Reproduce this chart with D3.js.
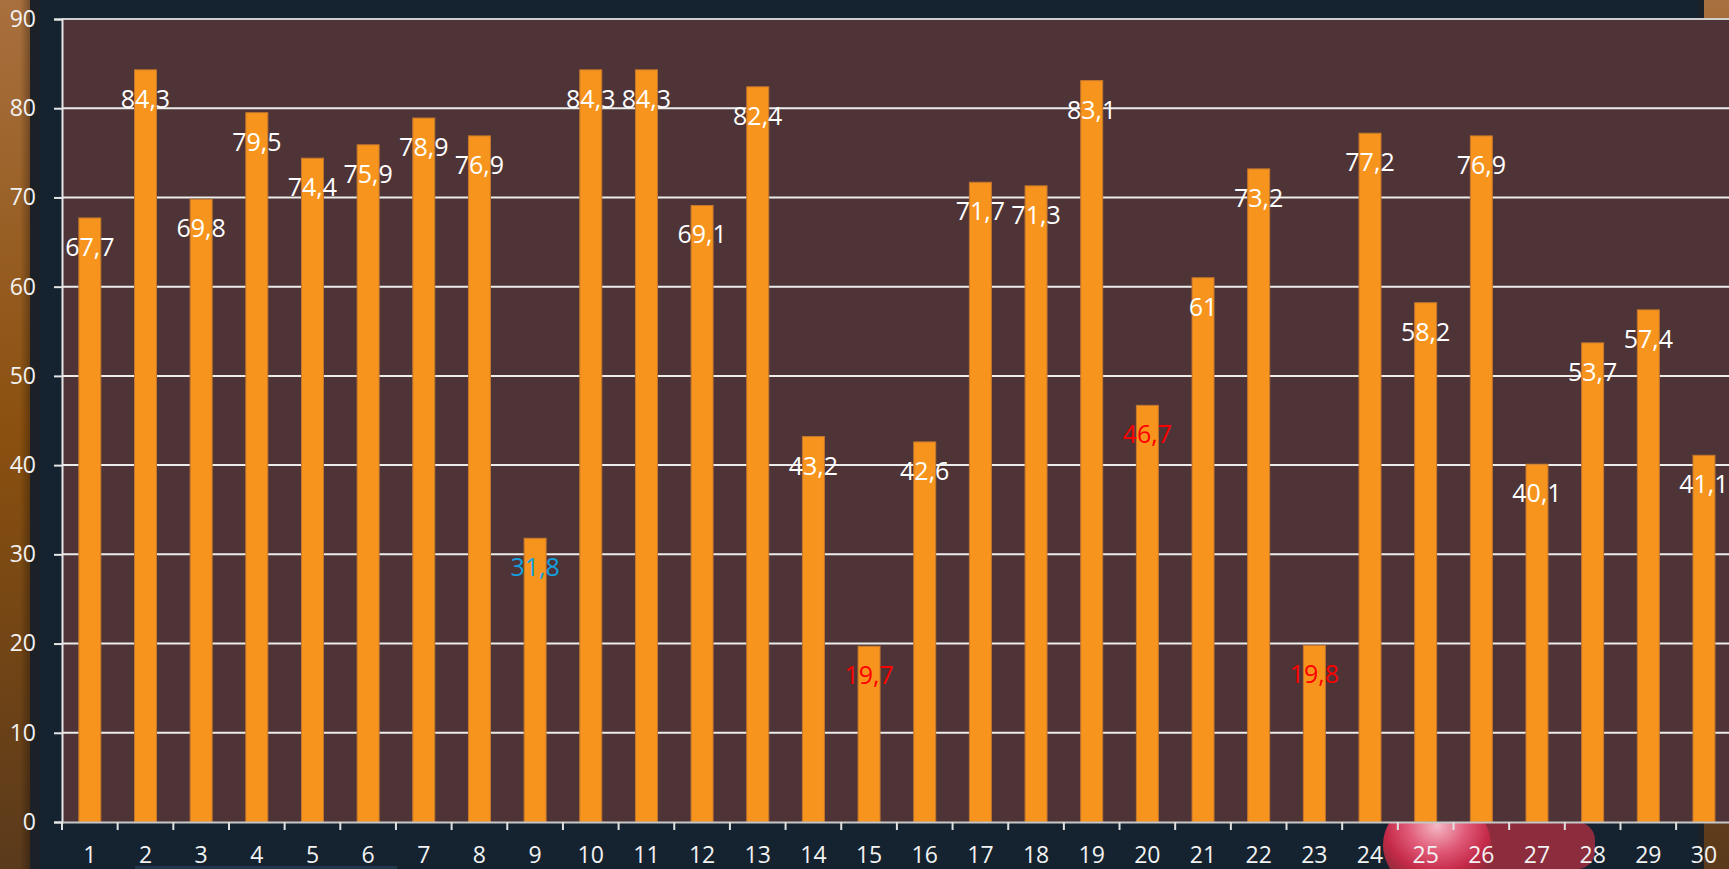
<!DOCTYPE html>
<html>
<head>
<meta charset="utf-8">
<script src="https://cdn.jsdelivr.net/npm/d3@7"></script>
<style>
  html, body { margin: 0; padding: 0; background: #14232f; overflow: hidden; }
  svg { display: block; }
</style>
</head>
<body>
<svg id="chart" width="1729" height="869"></svg>
<script>
const categories = ["1","2","3","4","5","6","7","8","9","10","11","12","13","14","15","16","17","18","19","20","21","22","23","24","25","26","27","28","29","30"];
const values = [67.7, 84.3, 69.8, 79.5, 74.4, 75.9, 78.9, 76.9, 31.8, 84.3, 84.3, 69.1, 82.4, 43.2, 19.7, 42.6, 71.7, 71.3, 83.1, 46.7, 61, 73.2, 19.8, 77.2, 58.2, 76.9, 40.1, 53.7, 57.4, 41.1];
const labelColors = ["white","white","white","white","white","white","white","white","blue","white","white","white","white","white","red","white","white","white","white","red","white","white","red","white","white","white","white","white","white","white"];
const yTicks = [0, 10, 20, 30, 40, 50, 60, 70, 80, 90];

const colorMap = { white: "#ffffff", red: "#ff0000", blue: "#12a0e0" };

const W = 1729, H = 869;
const margin = { left: 62, top: 19, bottom: 822 };
const step = 55.66;
const svg = d3.select("#chart");
const defs = svg.append("defs");

// background decorations
const lg = defs.append("linearGradient").attr("id", "leftStrip").attr("x1", 0).attr("x2", 0).attr("y1", 0).attr("y2", 1);
lg.append("stop").attr("offset", "0%").attr("stop-color", "#a8703e");
lg.append("stop").attr("offset", "50%").attr("stop-color", "#8a500f");
lg.append("stop").attr("offset", "100%").attr("stop-color", "#5a3a1c");
const lh = defs.append("linearGradient").attr("id", "leftFade").attr("x1", 0).attr("x2", 1).attr("y1", 0).attr("y2", 0);
lh.append("stop").attr("offset", "0%").attr("stop-color", "#000").attr("stop-opacity", 0);
lh.append("stop").attr("offset", "100%").attr("stop-color", "#000").attr("stop-opacity", 0.35);

svg.append("rect").attr("x", 0).attr("y", 0).attr("width", W).attr("height", H).attr("fill", "#14232f");
svg.append("rect").attr("x", 0).attr("y", 0).attr("width", 30).attr("height", H).attr("fill", "url(#leftStrip)");
svg.append("rect").attr("x", 20).attr("y", 0).attr("width", 12).attr("height", H).attr("fill", "url(#leftFade)");
svg.append("rect").attr("x", 30).attr("y", 0).attr("width", 10).attr("height", H).attr("fill", "#1b2126");
svg.append("rect").attr("x", 1703).attr("y", 0).attr("width", 26).attr("height", H).attr("fill", "url(#leftStrip)");
svg.append("rect").attr("x", 1698).attr("y", 0).attr("width", 6).attr("height", H).attr("fill", "#1b2126");

// pink blob at the bottom
const rg = defs.append("radialGradient").attr("id", "blob").attr("cx", "50%").attr("cy", "30%").attr("r", "60%");
rg.append("stop").attr("offset", "0%").attr("stop-color", "#f4b8c4");
rg.append("stop").attr("offset", "45%").attr("stop-color", "#e05a78");
rg.append("stop").attr("offset", "80%").attr("stop-color", "#c42a48");
rg.append("stop").attr("offset", "100%").attr("stop-color", "#9a2a3c");
svg.append("rect").attr("x", 1400).attr("y", 822).attr("width", 195).attr("height", 47).attr("rx", 18).attr("fill", "#8c2c3c");
svg.append("ellipse").attr("cx", 1437).attr("cy", 845).attr("rx", 54).attr("ry", 48).attr("fill", "url(#blob)");
svg.append("rect").attr("x", 135).attr("y", 866).attr("width", 262).attr("height", 3).attr("fill", "#22384a");

// scales
const x = d3.scaleBand().domain(categories).range([margin.left, margin.left + step * categories.length]).paddingInner(0.605).paddingOuter(0.3025);
const y = d3.scaleLinear().domain([0, 90]).range([margin.bottom, margin.top]);

// plot area
svg.append("rect").attr("x", margin.left).attr("y", margin.top)
  .attr("width", step * categories.length).attr("height", margin.bottom - margin.top)
  .attr("fill", "#4e3436");

// gridlines
svg.append("g").selectAll("line").data(yTicks.filter(d => d > 0)).join("line")
  .attr("x1", margin.left).attr("x2", margin.left + step * categories.length)
  .attr("y1", d => y(d)).attr("y2", d => y(d))
  .attr("stroke", d => d === 90 ? "#cfcfcf" : "#ececec").attr("stroke-width", 2);

// bars
svg.append("g").selectAll("rect").data(values).join("rect")
  .attr("x", (d, i) => x(categories[i]))
  .attr("y", d => y(d))
  .attr("width", x.bandwidth())
  .attr("height", d => y(0) - y(d))
  .attr("fill", "#f7941d")
  .attr("stroke", "#c4772e").attr("stroke-width", 1);

// data labels
svg.append("g").selectAll("text").data(values).join("text")
  .attr("x", (d, i) => x(categories[i]) + x.bandwidth() / 2)
  .attr("y", d => y(d) + 38)
  .attr("text-anchor", "middle")
  .attr("font-family", "'Open Sans', sans-serif")
  .attr("font-size", 25)
  .attr("fill", (d, i) => colorMap[labelColors[i]])
  .text(d => String(d).replace(".", ","));

// y axis
const yAxis = d3.axisLeft(y).tickValues(yTicks).tickSize(8).tickPadding(18);
const gy = svg.append("g").attr("transform", `translate(${margin.left},0)`).call(yAxis);
gy.select(".domain").attr("stroke", "#e6e6e6").attr("stroke-width", 2);
gy.selectAll(".tick line").attr("stroke", "#e6e6e6").attr("stroke-width", 2);
gy.selectAll(".tick text").attr("fill", "#f2f2f2").attr("font-family", "'Open Sans', sans-serif").attr("font-size", 23);

// x axis
const xAxis = d3.axisBottom(x).tickSize(0).tickPadding(25);
const gx = svg.append("g").attr("transform", `translate(0,${margin.bottom})`).call(xAxis);
gx.select(".domain").attr("stroke", "#c8c8c8").attr("stroke-width", 2);
gx.selectAll(".tick text").attr("fill", "#f2f2f2").attr("font-family", "'Open Sans', sans-serif").attr("font-size", 23);

// x tick marks at category boundaries
svg.append("g").selectAll("line").data(d3.range(categories.length + 1)).join("line")
  .attr("x1", i => margin.left + i * step).attr("x2", i => margin.left + i * step)
  .attr("y1", margin.bottom).attr("y2", margin.bottom + 8)
  .attr("stroke", "#e0e0e0").attr("stroke-width", 2);
</script>
</body>
</html>
